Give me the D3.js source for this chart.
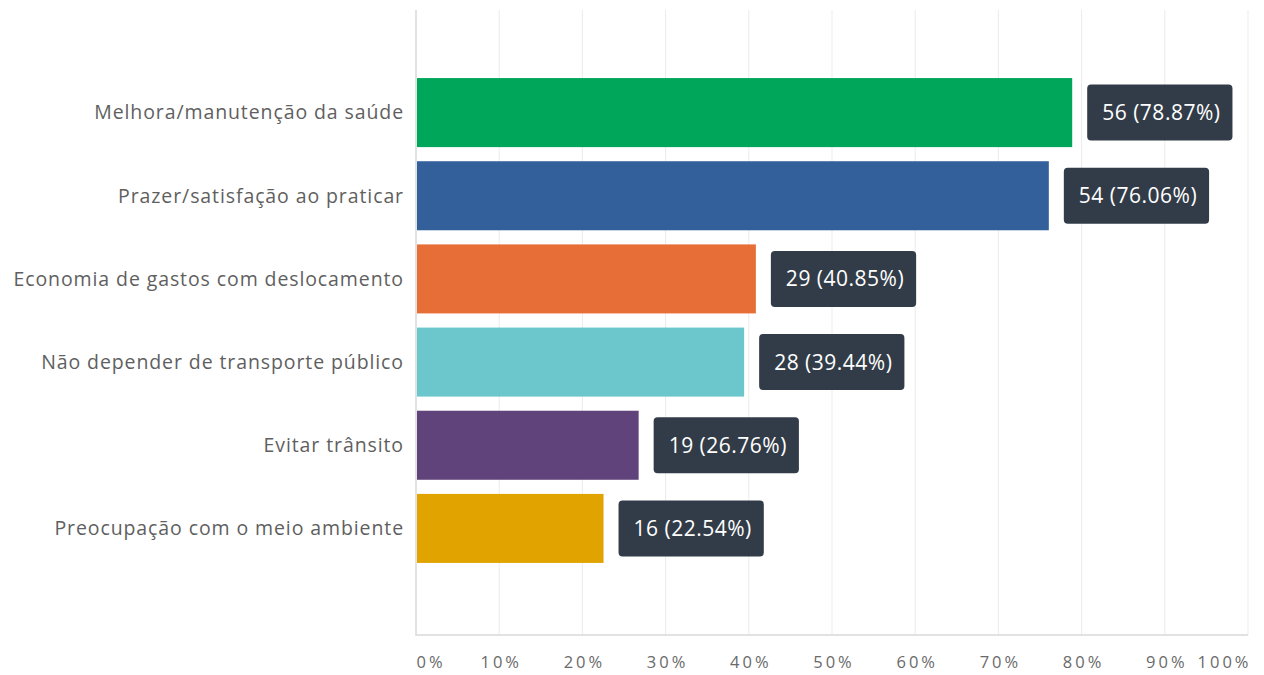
<!DOCTYPE html>
<html>
<head>
<meta charset="utf-8">
<script src="https://cdn.jsdelivr.net/npm/d3@7"></script>
<style>
  html, body { margin: 0; padding: 0; background: #ffffff; }
  svg { display: block; }
</style>
</head>
<body>
<svg id="chart" width="1264" height="675"></svg>
<script>
// Respostas e percentuais por motivo
const categories = [
  "Melhora/manutenção da saúde",
  "Prazer/satisfação ao praticar",
  "Economia de gastos com deslocamento",
  "Não depender de transporte público",
  "Evitar trânsito",
  "Preocupação com o meio ambiente"
];
const counts = [56, 54, 29, 28, 19, 16];
const percents = [78.87, 76.06, 40.85, 39.44, 26.76, 22.54];
const barColors = ["#00a65a", "#33609b", "#e76f37", "#6cc7cc", "#60437a", "#e0a300"];
const tickValues = [0, 10, 20, 30, 40, 50, 60, 70, 80, 90, 100];

const svg = d3.select("#chart");
const plotLeft = 416, plotRight = 1248, plotTop = 10, plotBottom = 635;

const x = d3.scaleLinear().domain([0, 100]).range([plotLeft, plotRight]);
const y = d3.scaleBand().domain(categories).range([71, 570])
  .paddingInner(0.17).paddingOuter(0.085);

const fontFamily = "'Open Sans', 'DejaVu Sans', sans-serif";

// grid
svg.append("g").selectAll("line").data(tickValues.slice(1)).join("line")
  .attr("x1", d => x(d)).attr("x2", d => x(d))
  .attr("y1", plotTop).attr("y2", plotBottom)
  .attr("stroke", "#ebebeb").attr("stroke-width", 1);

// frame: left axis and baseline
svg.append("path")
  .attr("d", `M${plotLeft},${plotTop} V${plotBottom} H${plotRight}`)
  .attr("fill", "none").attr("stroke", "#d9d9d9").attr("stroke-width", 1.5);

// x tick labels
const xAxis = d3.axisBottom(x).tickValues(tickValues).tickFormat(d => d + "%").tickSize(0).tickPadding(0);
const gx = svg.append("g").attr("transform", `translate(0,${plotBottom})`).call(xAxis);
gx.select(".domain").remove();
gx.selectAll("text")
  .attr("y", 33)
  .attr("dy", 0)
  .attr("font-family", fontFamily)
  .attr("font-size", 16.5)
  .attr("letter-spacing", 3)
  .attr("fill", "#6a6a6a")
  .attr("text-anchor", (d, i) => i === 0 ? "start" : (i === tickValues.length - 1 ? "end" : "middle"))
  .attr("dx", (d, i) => i === 0 ? 0 : (i === tickValues.length - 1 ? 3 : 1.5));

// category labels
svg.append("g").selectAll("text").data(categories).join("text")
  .attr("x", 404)
  .attr("y", d => y(d) + y.bandwidth() / 2)
  .attr("dy", "0.35em")
  .attr("text-anchor", "end")
  .attr("font-family", fontFamily)
  .attr("font-size", 19.5)
  .attr("letter-spacing", 0.9)
  .attr("fill", "#5f5f5f")
  .text(d => d);

// bars
svg.append("g").selectAll("rect").data(categories).join("rect")
  .attr("x", x(0) + 1)
  .attr("y", d => y(d))
  .attr("width", (d, i) => x(percents[i]) - x(0) - 1)
  .attr("height", y.bandwidth())
  .attr("fill", (d, i) => barColors[i]);

// value tags
const tags = svg.append("g").selectAll("g").data(categories).join("g")
  .attr("transform", (d, i) => `translate(${x(percents[i]) + 15},${y(d) + y.bandwidth() / 2})`);
tags.append("text")
  .attr("x", 15)
  .attr("dy", "0.36em")
  .attr("font-family", fontFamily)
  .attr("font-size", 21)
  .attr("letter-spacing", 0.5)
  .attr("fill", "#ffffff")
  .text((d, i) => `${counts[i]} (${percents[i].toFixed(2)}%)`);
tags.insert("rect", "text")
  .attr("x", 0).attr("y", -28)
  .attr("height", 56)
  .attr("rx", 4).attr("ry", 4)
  .attr("fill", "#323c48")
  .attr("width", function () {
    const t = this.parentNode.querySelector("text");
    return t.getComputedTextLength() + 27;
  });
</script>
</body>
</html>
